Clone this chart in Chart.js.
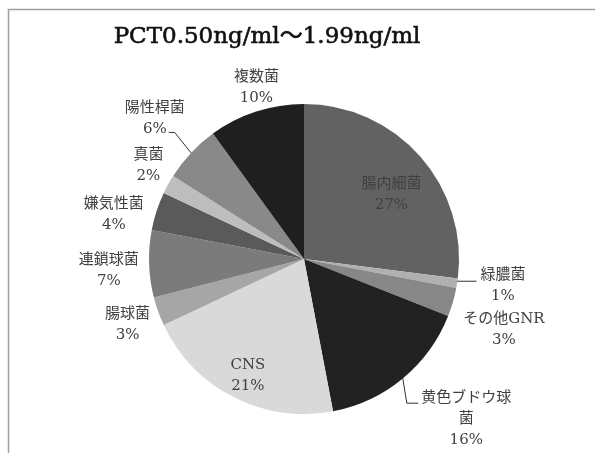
<!DOCTYPE html>
<html>
<head>
<meta charset="utf-8">
<script src="https://cdn.jsdelivr.net/npm/chart.js@4/dist/chart.umd.min.js"></script>
<style>
  html, body { margin: 0; padding: 0; background: #ffffff; }
  #wrap { width: 595px; height: 453px; }
</style>
</head>
<body>
<div id="wrap"><canvas id="c" width="595" height="453"></canvas></div>
<script>
// Organism groups and their share (%) of positive cultures
const categories = ['腸内細菌', '緑膿菌', 'その他GNR', '黄色ブドウ球菌', 'CNS', '腸球菌', '連鎖球菌', '嫌気性菌', '真菌', '陽性桿菌', '複数菌'];
const shares = [27, 1, 3, 16, 21, 3, 7, 4, 2, 6, 10];
const sliceColors = ['#626262', '#b0b0b0', '#878787', '#222222', '#d9d9d9', '#a6a6a6', '#7b7b7b', '#5a5a5a', '#bdbdbd', '#898989', '#1f1f1f'];
const titleText = 'PCT0.50ng/ml～1.99ng/ml';

// Long names broken over two lines
const wrappedNames = { '黄色ブドウ球菌': ['黄色ブドウ球', '菌'] };

// Label placement: distance from the centre as a fraction of the radius, plus a small nudge
const labelRadius = [0.70, 1.28, 1.33, 1.45, 0.84, 1.21, 1.26, 1.29, 1.16, 1.32, 1.16];
const labelNudge = [[6, 7], [3, -4], [2, 13], [19, -13], [3, 1], [0, 2], [0, 5], [0, 17], [2, -7], [0, 0], [8, 0]];
// Leader line styles for labels that sit away from their slice
const leaderStyle = { 1: 'flat', 3: 'drop', 9: 'bend' };

const LABEL_FONT = '15px "DejaVu Serif", "Noto Sans CJK JP", serif';
const TITLE_FONT = '23px "DejaVu Serif", "Noto Sans CJK JP", serif';
const TEXT_COLOR = '#404040';
const LINE_GAP = 21;

const framePlugin = {
  id: 'frame',
  beforeDraw(chart) {
    const ctx = chart.ctx;
    ctx.save();
    ctx.fillStyle = '#ffffff';
    ctx.fillRect(0, 0, chart.width, chart.height);
    ctx.strokeStyle = '#a0a0a0';
    ctx.lineWidth = 1.5;
    ctx.beginPath();
    ctx.moveTo(8.5, chart.height);
    ctx.lineTo(8.5, 9.5);
    ctx.lineTo(chart.width, 9.5);
    ctx.stroke();
    ctx.restore();
  }
};

const titleLabelPlugin = {
  id: 'titleAndLabels',
  afterDatasetsDraw(chart) {
    const ctx = chart.ctx;
    ctx.save();

    // Title, slightly thickened with a thin outline
    ctx.font = TITLE_FONT;
    ctx.fillStyle = '#111111';
    ctx.strokeStyle = '#111111';
    ctx.lineWidth = 0.6;
    ctx.textAlign = 'center';
    ctx.textBaseline = 'alphabetic';
    ctx.fillText(titleText, 267, 43);
    ctx.strokeText(titleText, 267, 43);

    // Slice labels
    ctx.font = LABEL_FONT;
    ctx.textBaseline = 'middle';
    const meta = chart.getDatasetMeta(0);
    meta.data.forEach((arc, i) => {
      const p = arc.getProps(['x', 'y', 'startAngle', 'endAngle', 'outerRadius'], true);
      const mid = (p.startAngle + p.endAngle) / 2;
      const cx = p.x + Math.cos(mid) * p.outerRadius * labelRadius[i] + labelNudge[i][0];
      const cy = p.y + Math.sin(mid) * p.outerRadius * labelRadius[i] + labelNudge[i][1];
      const name = categories[i];
      const lines = (wrappedNames[name] || [name]).concat([shares[i] + '%']);
      const top = cy - (lines.length - 1) * LINE_GAP / 2;
      ctx.fillStyle = TEXT_COLOR;
      lines.forEach((t, k) => ctx.fillText(t, cx, top + k * LINE_GAP));

      const style = leaderStyle[i];
      if (!style) return;
      const ex = p.x + Math.cos(mid) * p.outerRadius;
      const ey = p.y + Math.sin(mid) * p.outerRadius;
      ctx.strokeStyle = '#333333';
      ctx.lineWidth = 1;
      ctx.beginPath();
      if (style === 'flat') {
        const left = cx - ctx.measureText(lines[0]).width / 2;
        ctx.moveTo(ex, ey - 2);
        ctx.lineTo(left - 4, ey - 2);
      } else if (style === 'drop') {
        const left = cx - ctx.measureText(lines[0]).width / 2;
        const ly = top + 5;
        ctx.moveTo(ex, ey);
        ctx.lineTo(ex + 4, ly);
        ctx.lineTo(left - 3, ly);
      } else if (style === 'bend') {
        const last = lines[lines.length - 1];
        const right = cx + ctx.measureText(last).width / 2;
        const ly = top + (lines.length - 1) * LINE_GAP + 3;
        ctx.moveTo(ex, ey);
        ctx.lineTo(right + 8, ly);
        ctx.lineTo(right + 2, ly);
      }
      ctx.stroke();
    });
    ctx.restore();
  }
};

new Chart(document.getElementById('c'), {
  type: 'pie',
  data: {
    labels: categories,
    datasets: [{
      data: shares,
      backgroundColor: sliceColors,
      borderWidth: 0
    }]
  },
  options: {
    responsive: false,
    devicePixelRatio: 1,
    animation: false,
    layout: { padding: { left: 149, right: 136, top: 104, bottom: 39 } },
    plugins: {
      legend: { display: false },
      tooltip: { enabled: false },
      title: { display: false }
    }
  },
  plugins: [framePlugin, titleLabelPlugin]
});
</script>
</body>
</html>
